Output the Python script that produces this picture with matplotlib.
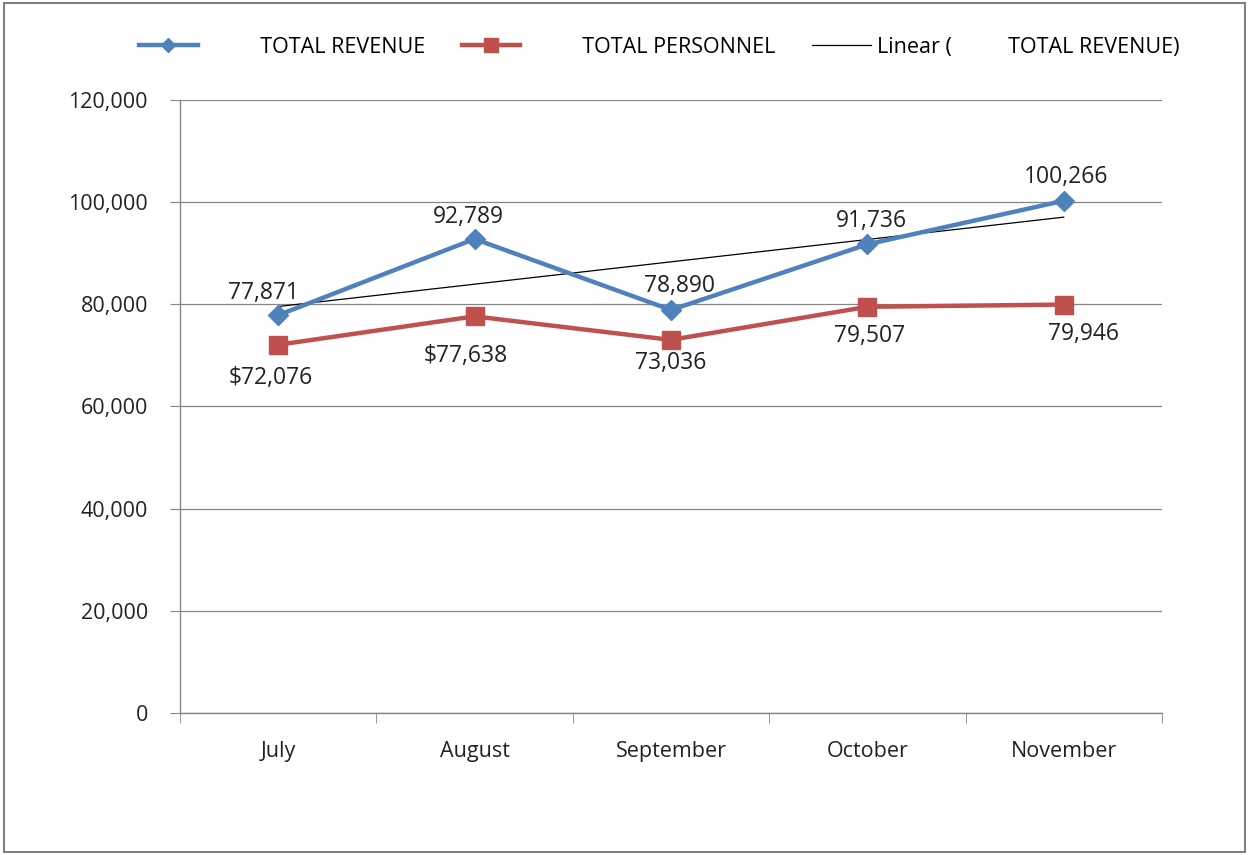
import numpy as np
import matplotlib.pyplot as plt
from matplotlib.patches import Rectangle
from matplotlib.ticker import FuncFormatter

months = ["July", "August", "September", "October", "November"]
revenue = [77871, 92789, 78890, 91736, 100266]
personnel = [72076, 77638, 73036, 79507, 79946]
revenue_labels = ["77,871", "92,789", "78,890", "91,736", "100,266"]
personnel_labels = ["$72,076", "$77,638", "73,036", "79,507", "79,946"]

plt.rcParams['font.family'] = ['Open Sans', 'DejaVu Sans']

fig = plt.figure(figsize=(12.49, 8.55), dpi=100)
ax = fig.add_axes([0.1441, 0.1661, 0.7862, 0.717])

x = np.arange(len(months))
blue = "#4F81BD"
red = "#C0504D"
pad = " " * 10

ax.plot(x, revenue, color=blue, lw=3.2, marker="D", ms=10, label=pad + "TOTAL REVENUE", zorder=3)
ax.plot(x, personnel, color=red, lw=3.2, marker="s", ms=13, label=pad + "TOTAL PERSONNEL", zorder=3)

coef = np.polyfit(x, revenue, 1)
ax.plot(x, np.polyval(coef, x), color="black", lw=0.9, label="Linear (" + pad + "TOTAL REVENUE)", zorder=2)

# label offsets (pixels) as placed in the original chart
rev_off = [(-15, 22), (-6, 22), (9, 24), (4, 23), (2, 24)]
per_off = [(-7, -33), (-9, -40), (0, -23), (2, -29), (20, -29)]
px = 0.72
for xi, v, s, (dx, dy) in zip(x, revenue, revenue_labels, rev_off):
    ax.annotate(s, (xi, v), xytext=(dx * px, dy * px), textcoords="offset points",
                ha="center", va="center", fontsize=16.5, color="#222222")
for xi, v, s, (dx, dy) in zip(x, personnel, personnel_labels, per_off):
    ax.annotate(s, (xi, v), xytext=(dx * px, dy * px), textcoords="offset points",
                ha="center", va="center", fontsize=16.5, color="#222222")

ax.set_xlim(-0.5, 4.5)
ax.set_ylim(0, 120000)
ax.set_yticks(np.arange(0, 120001, 20000))
ax.yaxis.set_major_formatter(FuncFormatter(lambda v, p: f"{int(v):,}"))
ax.set_xticks(x)
ax.set_xticklabels(months)
ax.set_xticks(np.arange(-0.5, 4.6, 1), minor=True)
ax.tick_params(axis="x", which="major", length=0, pad=20, labelsize=15.5, colors="#222222")
ax.tick_params(axis="x", which="minor", length=7, color="#868686")
ax.tick_params(axis="y", length=7, color="#868686", labelsize=15.5, labelcolor="#222222", pad=16)
ax.grid(axis="y", color="#868686", lw=0.9)
ax.set_axisbelow(True)
for side in ["top", "right"]:
    ax.spines[side].set_visible(False)
for side in ["left", "bottom"]:
    ax.spines[side].set_color("#868686")
    ax.spines[side].set_linewidth(1.0)

fig.legend(loc="center", bbox_to_anchor=(0.528, 0.945), ncol=3, frameon=False,
           fontsize=15.5, handlelength=2.7, columnspacing=1.7, handletextpad=0.3,
           markerscale=0.75)

fig.patches.append(Rectangle((0.003, 0.004), 0.994, 0.992, transform=fig.transFigure,
                             fill=False, edgecolor="#7f7f7f", lw=1.5))

fig.savefig("out.png", dpi=100)
